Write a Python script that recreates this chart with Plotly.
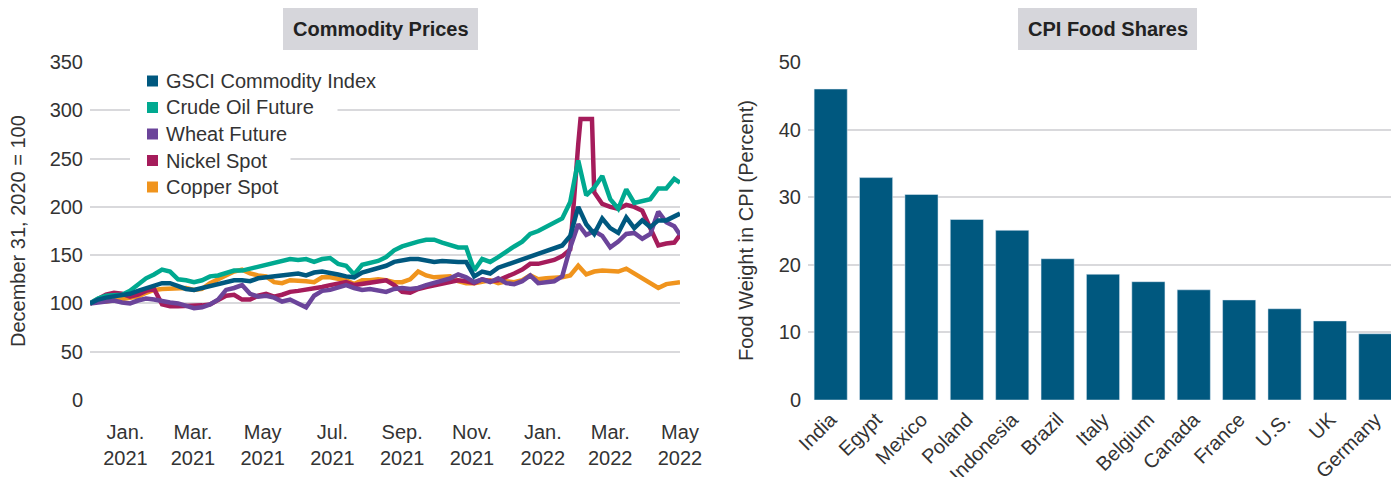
import pandas as pd
import plotly.graph_objects as go

# ---------------- data ----------------
dates = list(pd.date_range("2020-12-31", periods=74, freq="7D")) + [pd.Timestamp("2022-05-31")]

gsci = [100,104,106,107,108,110,113,116,119,121,121,118,115,114,116,117,120,122,124,124,123,126,127,129,129,
        130,131,129,132,133,132,130,128,127,132,134,136,139,143,145,146,146,145,143,144,143,143,143,128,133,
        131,137,140,143,146,149,151,155,157,160,170,200,182,172,188,178,173,189,178,186,179,186,186,190,193]
crude = [100,105,108,108,109,113,120,126,130,135,133,125,124,122,124,128,129,132,134,134,136,138,140,143,145,
         146,145,146,143,146,147,141,139,130,140,142,144,148,155,159,162,164,166,166,163,161,158,158,134,146,
         143,148,154,159,164,172,175,179,184,188,205,248,212,220,232,208,198,218,204,206,208,219,219,229,225]
wheat = [100,101,102,103,101,100,103,105,104,102,101,100,97,95,96,99,104,114,116,119,110,107,108,106,102,
         104,100,96,108,113,114,116,119,116,114,115,114,112,115,116,115,116,119,121,123,126,130,127,122,125,
         122,126,121,120,123,129,121,122,123,128,158,182,171,175,170,158,164,172,173,167,172,195,184,180,171]
nickel = [100,104,109,111,110,107,109,113,115,99,97,97,97,98,98,99,103,108,109,104,104,108,110,107,109,
          112,113,114,115,117,119,121,122,119,120,122,123,124,119,112,111,115,117,119,120,122,124,123,121,125,
          123,124,127,131,135,141,141,143,145,149,156,265,291,215,203,200,198,202,200,196,178,160,162,163,171]
nickel_spike_dates = ["2022-03-05", "2022-03-15"]
nickel_spike_vals = [291, 291]
copper = [100,103,102,103,104,105,107,111,114,115,115,116,116,114,115,121,125,129,133,135,131,129,128,122,121,
          124,124,123,122,127,127,125,124,120,124,124,125,124,122,122,125,133,129,127,127,128,123,121,121,122,
          124,121,123,122,124,129,125,126,126,127,129,139,130,133,134,134,133,136,131,126,121,116,120,121,122]

series_names = ["GSCI Commodity Index", "Crude Oil Future", "Wheat Future", "Nickel Spot", "Copper Spot"]
series_colors = ["#00587f", "#00a990", "#6b449a", "#a51c5b", "#f0941d"]

x_tickvals = ["2021-01-31", "2021-03-31", "2021-05-31", "2021-07-31", "2021-09-30",
              "2021-11-30", "2022-01-31", "2022-03-31", "2022-05-31"]
x_ticktext = ["Jan.<br>2021", "Mar.<br>2021", "May<br>2021", "Jul.<br>2021", "Sep.<br>2021",
              "Nov.<br>2021", "Jan.<br>2022", "Mar.<br>2022", "May<br>2022"]

countries = ["India", "Egypt", "Mexico", "Poland", "Indonesia", "Brazil", "Italy",
             "Belgium", "Canada", "France", "U.S.", "UK", "Germany"]
food_share = [46.0, 32.9, 30.4, 26.7, 25.1, 20.9, 18.6, 17.5, 16.3, 14.8, 13.5, 11.7, 9.8]

# ---------------- figure ----------------
OFF = 8  # page body margin
W, H = 1399 - OFF, 477 - OFF
FONT = "Liberation Sans, Arial, Helvetica, sans-serif"
TXT = "#333333"
GRID = "#d9d9dc"
FS = 20

nickel_s = pd.concat([pd.Series(nickel, index=dates),
                      pd.Series(nickel_spike_vals, index=pd.to_datetime(nickel_spike_dates))]).sort_index()

ser = {
    "GSCI Commodity Index": pd.Series(gsci, index=dates),
    "Crude Oil Future": pd.Series(crude, index=dates),
    "Wheat Future": pd.Series(wheat, index=dates),
    "Nickel Spot": nickel_s,
    "Copper Spot": pd.Series(copper, index=dates),
}

fig = go.Figure()
for name, col in reversed(list(zip(series_names, series_colors))):
    s = ser[name]
    fig.add_trace(go.Scatter(x=s.index, y=s.values, mode="lines", name=name,
                             line=dict(color=col, width=4.5), showlegend=False,
                             xaxis="x", yaxis="y", hoverinfo="skip"))

fig.add_trace(go.Bar(x=countries, y=food_share, marker_color="#00587f",
                     showlegend=False, xaxis="x2", yaxis="y2", hoverinfo="skip"))


def px_x(p):
    return (p - OFF) / W


def px_y(p):
    return 1 - (p - OFF) / H


ydom = [px_y(400), px_y(62)]

fig.update_layout(
    width=W, height=H,
    margin=dict(l=0, r=0, t=0, b=0),
    paper_bgcolor="white", plot_bgcolor="white",
    font=dict(family=FONT, size=FS, color=TXT),
    bargap=0.27,
    showlegend=False,
    xaxis=dict(domain=[px_x(90), px_x(680)], anchor="y", type="date",
               range=["2020-12-31", "2022-05-31"],
               tickvals=x_tickvals, ticktext=x_ticktext, tickangle=0,
               showgrid=False, zeroline=False, showline=False, ticks="",
               ticklabelstandoff=18,
               tickfont=dict(size=FS, color=TXT), automargin=False),
    yaxis=dict(domain=ydom, anchor="x", range=[0, 350], dtick=50,
               showgrid=True, gridcolor=GRID, gridwidth=2, zeroline=False,
               showline=False, ticks="", ticklabelstandoff=6,
               tickfont=dict(size=FS, color=TXT), automargin=False),
    xaxis2=dict(domain=[px_x(808), px_x(1398)], anchor="y2", type="category",
                tickangle=-45, showgrid=False, zeroline=False, showline=False, ticks="",
                ticklabelstandoff=3,
                tickfont=dict(size=FS, color=TXT), automargin=False),
    yaxis2=dict(domain=ydom, anchor="x2", range=[0, 50], dtick=10,
                showgrid=True, gridcolor=GRID, gridwidth=2, zeroline=False,
                showline=False, ticks="", ticklabelstandoff=6,
                tickfont=dict(size=FS, color=TXT), automargin=False),
)

# legend (square swatches + labels with white backgrounds)
LEG_Y0, LEG_DY = 81, 26.5
for i, (name, col) in enumerate(zip(series_names, series_colors)):
    cy = LEG_Y0 + i * LEG_DY
    fig.add_shape(type="rect", xref="paper", yref="paper",
                  x0=px_x(130), x1=px_x(168), y0=px_y(cy + 13), y1=px_y(cy - 13),
                  fillcolor="white", line=dict(width=0), layer="above")
    fig.add_shape(type="rect", xref="paper", yref="paper",
                  x0=px_x(147), x1=px_x(158), y0=px_y(cy + 5.5), y1=px_y(cy - 5.5),
                  fillcolor=col, line=dict(width=0), layer="above")
    fig.add_annotation(xref="paper", yref="paper", x=px_x(162), y=px_y(cy),
                       text=name + "\u2003", showarrow=False, bgcolor="white", borderpad=3,
                       font=dict(size=FS, color=TXT), xanchor="left", yanchor="middle")

for (x0, x1, label) in [(283, 478, "Commodity Prices"), (1018, 1197, "CPI Food Shares")]:
    fig.add_shape(type="rect", xref="paper", yref="paper",
                  x0=px_x(x0), x1=px_x(x1), y0=px_y(50), y1=px_y(8),
                  fillcolor="#d6d6db", line=dict(width=0), layer="below")
    fig.add_annotation(xref="paper", yref="paper", x=px_x((x0 + x1) / 2), y=px_y(29),
                       text="<b>" + label + "</b>", showarrow=False,
                       font=dict(size=FS, color="#222222", family=FONT),
                       xanchor="center", yanchor="middle")

fig.add_annotation(xref="paper", yref="paper", x=px_x(18), y=px_y(231),
                   text="December 31, 2020 = 100", textangle=-90, showarrow=False,
                   font=dict(size=FS, color=TXT), xanchor="center", yanchor="middle")
fig.add_annotation(xref="paper", yref="paper", x=px_x(746), y=px_y(231),
                   text="Food Weight in CPI (Percent)", textangle=-90, showarrow=False,
                   font=dict(size=FS, color=TXT), xanchor="center", yanchor="middle")

fig.write_html("out.html")
